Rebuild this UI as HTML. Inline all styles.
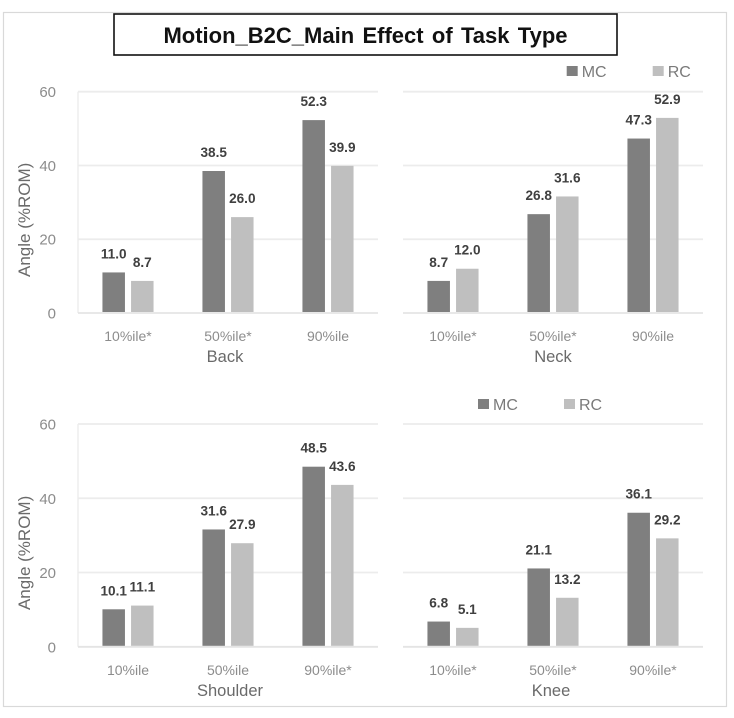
<!DOCTYPE html>
<html lang="en">
<head>
<meta charset="utf-8">
<title>Motion_B2C_Main Effect of Task Type</title>
<style>
html,body{margin:0;padding:0;background:#fff;}
body{width:734px;height:718px;overflow:hidden;}
svg{display:block;font-family:"Liberation Sans","Noto Sans CJK KR",sans-serif;filter:blur(0.35px);}
</style>
</head>
<body>
<svg id="chart" width="734" height="718" viewBox="0 0 734 718" xmlns="http://www.w3.org/2000/svg">
  <rect x="3.5" y="12.5" width="723" height="694" fill="#fff" stroke="#d9d9d9" stroke-width="1.2"/>
  <rect x="114" y="14" width="503" height="41" fill="#fff" stroke="#111" stroke-width="1.6"/>
  <text x="365.5" y="43" text-anchor="middle" font-size="22" font-weight="700" fill="#111" word-spacing="2.2">Motion_B2C_Main Effect of Task Type</text>
</svg>
<script>
const yTicks = [0, 20, 40, 60];
const seriesNames = ['MC', 'RC'];

const backCategories = ['10%ile*', '50%ile*', '90%ile'];
const backMC = [11.0, 38.5, 52.3];
const backRC = [8.7, 26.0, 39.9];

const neckCategories = ['10%ile*', '50%ile*', '90%ile'];
const neckMC = [8.7, 26.8, 47.3];
const neckRC = [12.0, 31.6, 52.9];

const shoulderCategories = ['10%ile', '50%ile', '90%ile*'];
const shoulderMC = [10.1, 31.6, 48.5];
const shoulderRC = [11.1, 27.9, 43.6];

const kneeCategories = ['10%ile*', '50%ile*', '90%ile*'];
const kneeMC = [6.8, 21.1, 36.1];
const kneeRC = [5.1, 13.2, 29.2];

const NS = 'http://www.w3.org/2000/svg';
const svg = document.getElementById('chart');
const COLORS = ['#7f7f7f', '#bfbfbf'];

function add(tag, attrs, content) {
  const el = document.createElementNS(NS, tag);
  for (const k in attrs) el.setAttribute(k, attrs[k]);
  if (content !== undefined) el.textContent = content;
  svg.appendChild(el);
  return el;
}

function drawPanel(p) {
  const key = p.title.toLowerCase();
  const yScale = v => p.bottom - (v / 60) * (p.bottom - p.top);
  const band = (p.right - p.left) / p.categories.length;
  const xCenter = i => p.left + band * (i + 0.5);
  const barW = 22.5;
  const offset = 14.3;

  if (p.showAxis) {
    const axisLine = add('line', {x1: p.left, x2: p.left, y1: p.top, y2: p.bottom, stroke: '#ededed', 'stroke-width': 1.5});
    
    
  }

  yTicks.forEach(t => {
    const grid = add('line', {x1: p.left, x2: p.right, y1: yScale(t), y2: yScale(t), stroke: t === 0 ? '#e4e4e4' : '#ececec', 'stroke-width': 1.8});
    
    
    if (p.showAxis) {
      const tick = add('text', {x: 56, y: yScale(t) + 5.5, 'text-anchor': 'end', 'font-size': 15, fill: '#8c8c8c'}, String(t));
      
      
    }
  });

  p.categories.forEach((c, i) => {
    [p.mc, p.rc].forEach((vals, s) => {
      const v = vals[i];
      const cx = xCenter(i) + (s === 0 ? -offset : offset);
      const bar = add('rect', {x: cx - barW / 2, y: yScale(v), width: barW, height: yScale(0) - yScale(v) - 1, fill: COLORS[s]});
      
      
      const val = add('text', {x: cx, y: yScale(v) - 14, 'text-anchor': 'middle', 'font-size': 13.6, 'font-weight': 700, fill: '#404040'}, v.toFixed(1));
      
      
    });
    const cat = add('text', {x: xCenter(i), y: p.bottom + 28, 'text-anchor': 'middle', 'font-size': 14, fill: '#8c8c8c'}, c);
    
    
  });

  const facet = add('text', {x: p.facetX, y: p.bottom + 49, 'text-anchor': 'middle', 'font-size': 16.5, fill: '#6a6a6a'}, p.title);
  
  

  if (p.showAxis) {
    const ay = (p.top + p.bottom) / 2 + 17.5;
    const axisTitle = add('text', {x: 30, y: ay, 'text-anchor': 'middle', 'font-size': 17, fill: '#6a6a6a', transform: 'rotate(-90 30 ' + ay + ')'}, 'Angle (%ROM)');
    
    
  }

  if (p.legendX !== undefined) {
    seriesNames.forEach((n, s) => {
      const lx = p.legendX + s * 86;
      const swatch = add('rect', {x: lx, y: p.legendY - 5, width: 11, height: 10, fill: COLORS[s]});
      
      
      const lab = add('text', {x: lx + 15, y: p.legendY + 6, 'font-size': 16, fill: '#7a7a7a'}, n);
      
      
    });
  }
}

drawPanel({title: 'Back', categories: backCategories, mc: backMC, rc: backRC, left: 78, right: 378, top: 91.7, bottom: 313, showAxis: true, facetX: 225});
drawPanel({title: 'Neck', categories: neckCategories, mc: neckMC, rc: neckRC, left: 403, right: 703, top: 91.7, bottom: 313, showAxis: false, facetX: 553, legendX: 566.7, legendY: 71});
drawPanel({title: 'Shoulder', categories: shoulderCategories, mc: shoulderMC, rc: shoulderRC, left: 78, right: 378, top: 424, bottom: 646.8, showAxis: true, facetX: 230});
drawPanel({title: 'Knee', categories: kneeCategories, mc: kneeMC, rc: kneeRC, left: 403, right: 703, top: 424, bottom: 646.8, showAxis: false, facetX: 551, legendX: 478, legendY: 404});
</script>
</body>
</html>
